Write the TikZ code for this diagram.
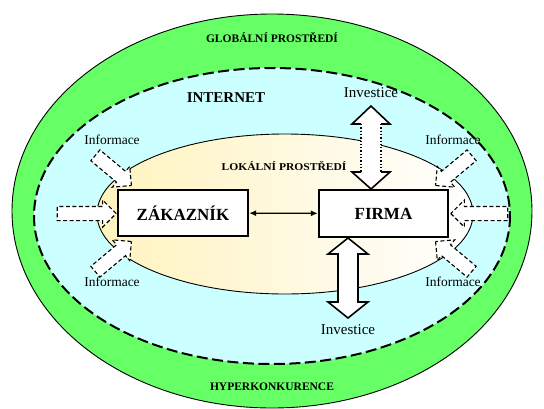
\documentclass[tikz,border=0pt]{standalone}
\usepackage{fontspec}
\setmainfont{Liberation Serif}
\usetikzlibrary{shapes.arrows,arrows.meta}
\definecolor{globalgreen}{HTML}{66FF66}
\definecolor{netcyan}{HTML}{CCFFFF}
\definecolor{localyellow}{RGB}{255,243,190}
\begin{document}
\begin{tikzpicture}[x=1pt,y=-1pt,
  zonetext/.style={font=\bfseries\fontsize{11.5}{13}\selectfont},
  nettext/.style={font=\bfseries\fontsize{15}{17}\selectfont},
  localtext/.style={font=\bfseries\fontsize{10.5}{12}\selectfont, xscale=1.1, transform shape},
  infotext/.style={font=\fontsize{13.5}{15}\selectfont},
  invtext/.style={font=\fontsize{15}{17}\selectfont},
  infoarrow/.style={single arrow, draw=black, fill=white, line width=1.1pt,
    dash pattern=on 4pt off 2.5pt, inner xsep=0pt, inner ysep=6.5pt,
    single arrow head extend=6.5pt, single arrow tip angle=90, anchor=tip},
  actor/.style={draw=black, line width=2.4pt, fill=white, inner sep=0pt,
    font=\bfseries\fontsize{17}{19}\selectfont},
  headline/.style={draw=black, line width=1.6pt, line join=miter},
  shaftline/.style={draw=black, line width=1.3pt, dotted}]

\useasboundingbox (0,0) rectangle (544,408);

% nested environments
\draw[fill=globalgreen, line width=0.9pt] (272,211) ellipse [x radius=260, y radius=197];
\draw[fill=netcyan, line width=2pt, dash pattern=on 11pt off 4.5pt] (272,216) ellipse [x radius=238, y radius=148];

% local environment: pale yellow fading to white towards the right
\begin{scope}
  \clip (285,214) ellipse [x radius=188, y radius=80];
  \foreach \i in {0,...,37} {
    \pgfmathsetmacro{\mix}{100-\i*100/37}
    \fill[localyellow!\mix!white] (97+\i*10,130) rectangle (108+\i*10,300);
  }
\end{scope}
\draw[line width=0.9pt] (285,214) ellipse [x radius=188, y radius=80];

% environment captions
\node[zonetext] (global) at (272,38) {GLOBÁLNÍ PROSTŘEDÍ};
\node[zonetext] (hyper) at (272,387) {HYPERKONKURENCE};
\node[nettext] (internet) at (226,98) {INTERNET};
\node[localtext] (local) at (284,166) {LOKÁLNÍ PROSTŘEDÍ};

% information inflows
\node[infotext] (infoTL) at (112,140) {Informace};
\node[infotext] (infoTR) at (453,140) {Informace};
\node[infotext] (infoBL) at (112,282) {Informace};
\node[infotext] (infoBR) at (453,282) {Informace};

\node[infoarrow, minimum height=59pt] (arrL) at (117,213.5) {};
\node[infoarrow, minimum height=57pt, rotate=180] (arrR) at (450,213.5) {};
\node[infoarrow, minimum height=47pt, rotate=-40] (arrTL) at (132,186) {};
\node[infoarrow, minimum height=47pt, rotate=40] (arrBL) at (132,241) {};
\node[infoarrow, minimum height=47pt, rotate=-140] (arrTR) at (435,186) {};
\node[infoarrow, minimum height=47pt, rotate=140] (arrBR) at (435,241) {};

% investment flows
\node[invtext] (invTop) at (371,93) {Investice};
\node[invtext] (invBot) at (348,330) {Investice};

\fill[white] (371,106) -- (390,124) -- (381,124) -- (381,172) -- (390,172) -- (371,189)
  -- (352,172) -- (361,172) -- (361,124) -- (352,124) -- cycle;
\draw[headline] (361,124) -- (352,124) -- (371,106) -- (390,124) -- (381,124);
\draw[headline] (361,172) -- (352,172) -- (371,189) -- (390,172) -- (381,172);
\draw[shaftline] (361,124) -- (361,172);
\draw[shaftline] (381,124) -- (381,172);

\draw[headline, fill=white] (348,238) -- (368,254) -- (358,254) -- (358,302) -- (368,302) -- (348,318)
  -- (328,302) -- (338,302) -- (338,254) -- (328,254) -- cycle;

% actors
\node[actor, minimum width=130pt, minimum height=46pt] (zak) at (183,213) {ZÁKAZNÍK};
\node[actor, minimum width=129pt, minimum height=47pt] (firma) at (383.5,213.5) {FIRMA};
\draw[{Latex[length=7pt,width=6pt]}-{Latex[length=7pt,width=6pt]}, line width=1.2pt] (zak) -- (firma);

\end{tikzpicture}
\end{document}
